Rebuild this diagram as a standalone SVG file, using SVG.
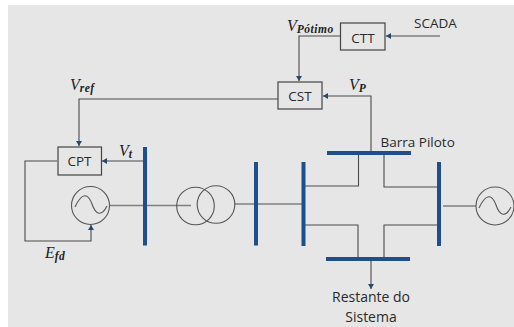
<svg xmlns="http://www.w3.org/2000/svg" width="514" height="327" viewBox="0 0 514 327">
<defs>
<marker id="arr" markerWidth="6" markerHeight="6" refX="5" refY="3" orient="auto" markerUnits="userSpaceOnUse"><path d="M0,0 L5,3 L0,6 Z" fill="#27486b"/></marker>
</defs>
<style>
.box{fill:none;stroke:#444;stroke-width:1.2}
.bus{fill:#1f4e8c}
.w{fill:none;stroke:#4a4a4a;stroke-width:1.1}
.g{fill:none;stroke:#808080;stroke-width:1.3}
.c{fill:none;stroke:#555;stroke-width:1.1}
.t{font-family:"Open Sans","Liberation Sans",sans-serif;font-size:13.500px;fill:#2a2a2a}
.r{font-size:14px}
.m{font-family:"Liberation Serif",serif;font-style:italic;fill:#222}
.v{font-size:16px}
.s{font-size:11.500px;font-weight:bold;letter-spacing:.5px}
</style>
<rect width="514" height="327" fill="#fff"/>
<rect x="8" y="5" width="506" height="322" fill="#e6e6e6"/>
<g id="connectors">
<path class="w" d="M340 36H299V81" marker-end="url(#arr)"/>
<path class="w" d="M440 36H386" marker-end="url(#arr)"/>
<path class="w" d="M371 152V96H323" marker-end="url(#arr)"/>
<path class="w" d="M278 99H79V146" marker-end="url(#arr)"/>
<path class="w" d="M144 161H102" marker-end="url(#arr)"/>
<path class="w" d="M57 161H25V241H91V225" marker-end="url(#arr)"/>
<path class="g" d="M110 205.500H191M235 204H254M258 204H302M443 206H476"/>
<path class="w" d="M305 186H358.500V155M384 155V187H437M305 225H358V257M384 257V225H437"/>
<path class="w" d="M371 261V289" marker-end="url(#arr)"/>
</g>
<g id="cpt"><rect class="box" x="58" y="147" width="43.500" height="28"/><text class="t" x="79.500" y="166" text-anchor="middle">CPT</text></g>
<g id="cst"><rect class="box" x="278" y="82" width="44" height="27"/><text class="t" x="300" y="101" text-anchor="middle">CST</text></g>
<g id="ctt"><rect class="box" x="340.500" y="23" width="44.500" height="27"/><text class="t" x="363" y="43" text-anchor="middle">CTT</text></g>
<g id="scada"><text class="t" x="414" y="28">SCADA</text></g>
<g id="gen1"><circle class="c" cx="90.500" cy="205.500" r="19"/><path class="c" d="M75 207C82 192 88 193 92 204C96 216 102 216 107 206"/></g>
<g id="bus1"><rect class="bus" x="143" y="147" width="4" height="98.500"/></g>
<g id="transformer"><circle class="c" cx="195.500" cy="206" r="18.800"/><circle class="c" cx="216" cy="204.500" r="18.800"/></g>
<g id="bus2"><rect class="bus" x="254" y="162" width="4" height="83.500"/></g>
<g id="bus3"><rect class="bus" x="301.500" y="162" width="4" height="84"/></g>
<g id="bus-piloto"><rect class="bus" x="327" y="151" width="84" height="4"/><text class="t" x="380.500" y="147">Barra Piloto</text></g>
<g id="bus-bottom"><rect class="bus" x="326" y="257" width="84" height="4"/></g>
<g id="bus-right"><rect class="bus" x="437" y="162" width="4" height="84"/></g>
<g id="gen2"><circle class="c" cx="495" cy="206" r="19"/><path class="c" d="M479 208C486 193 492 194 496 205C500 217 506 217 511 207"/></g>
<g id="restante"><text class="t r" x="371" y="302" text-anchor="middle">Restante do</text><text class="t r" x="371" y="322" text-anchor="middle">Sistema</text></g>
<g id="labels">
<text class="m v" x="70" y="90">V<tspan class="s" dy="2">ref</tspan></text>
<text class="m v" x="119" y="156">V<tspan class="s" dy="2">t</tspan></text>
<text class="m v" x="45" y="258">E<tspan class="s" dy="2">fd</tspan></text>
<text class="m v" x="349" y="90">V<tspan class="s" dy="2">P</tspan></text>
<text class="m v" x="287" y="31">V<tspan class="s" dy="2">Pótimo</tspan></text>
</g>
</svg>
